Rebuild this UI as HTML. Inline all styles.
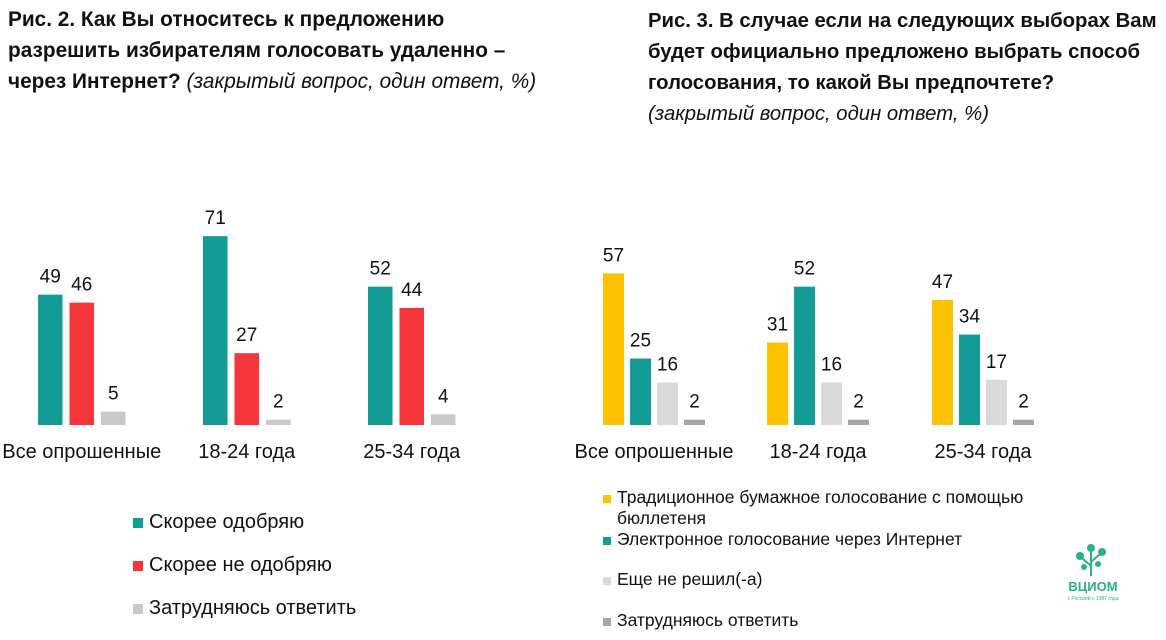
<!DOCTYPE html>
<html><head><meta charset="utf-8">
<style>
body{margin:0;width:1166px;height:640px;background:#fff;font-family:"Liberation Sans","DejaVu Sans",sans-serif;overflow:hidden;position:relative}
.t{position:absolute;font-weight:bold;line-height:31px;color:#111;white-space:nowrap}
.t i{font-weight:normal}
svg{position:absolute;left:0;top:0}
</style></head><body>
<div class="t" style="left:8px;top:4px;font-size:20.8px">Рис. 2. Как Вы относитесь к предложению<br>разрешить избирателям голосовать удаленно –<br>через Интернет? <i>(закрытый вопрос, один ответ, %)</i></div>
<div class="t" style="left:648px;top:6px;font-size:20.3px">Рис. 3. В случае если на следующих выборах Вам<br>будет официально предложено выбрать способ<br>голосования, то какой Вы предпочтете?<br><i>(закрытый вопрос, один ответ, %)</i></div>
<svg id="c" width="1166" height="640"></svg>
<script>
const cats1=["Все опрошенные","18-24 года","25-34 года"];
const approve=[49,71,52];
const disapprove=[46,27,44];
const unsure1=[5,2,4];
const cats2=["Все опрошенные","18-24 года","25-34 года"];
const paper=[57,31,47];
const online=[25,52,34];
const undecided=[16,16,17];
const unsure2=[2,2,2];
const NS="http://www.w3.org/2000/svg";
const svg=document.getElementById('c');
const base=425, k=2.66;
function y(v){return base-v*k;}
function mk(tag,attrs){const e=document.createElementNS(NS,tag);for(const a in attrs)e.setAttribute(a,attrs[a]);svg.appendChild(e);return e;}
function chart(prefix,cats,series,colors,groupX,bw,step){
  cats.forEach((c,i)=>{
    series.forEach((s,j)=>{
      const x=groupX[i]+j*step;
      const r=mk('rect',{x:x,y:y(s[i]),width:bw,height:s[i]*k,fill:colors[j]});
      
      
      const t=mk('text',{x:x+bw/2,y:y(s[i])-12,'text-anchor':'middle','font-size':'19',fill:'#111'});
      t.textContent=s[i];
      
      
    });
    const w=(series.length-1)*step+bw;
    const l=mk('text',{x:groupX[i]+w/2,y:458,'text-anchor':'middle','font-size':'20',fill:'#111'});
    l.textContent=c;
    
    
  });
}
chart('fig2',cats1,[approve,disapprove,unsure1],['#139b96','#f5363a','#c9c9c9'],[38,203,368],24.5,31.5);
chart('fig3',cats2,[paper,online,undecided,unsure2],['#fdc200','#139b96','#d9d9d9','#a6a6a6'],[603,767,932],21,27);
function leg(x,yy,col,txt,fs,sz){
  const r=mk('rect',{x:x,y:yy-sz,width:sz,height:sz,fill:col});
  
  
  const lines=txt.split('\n');
  lines.forEach((ln,i)=>{
    const t=mk('text',{x:x+sz+6,y:yy+i*21,'font-size':fs,fill:'#111'});
    t.textContent=ln;
    
    
  });
}
leg(133,528,'#139b96','Скорее одобряю',20,10);
leg(133,571,'#f5363a','Скорее не одобряю',20,10);
leg(133,614,'#c9c9c9','Затрудняюсь ответить',20,10);
leg(603,503,'#fdc200','Традиционное бумажное голосование с помощью\nбюллетеня',17.5,8);
leg(603,545,'#139b96','Электронное голосование через Интернет',17.5,8);
leg(603,585,'#d9d9d9','Еще не решил(-а)',17.5,8);
leg(603,626,'#a6a6a6','Затрудняюсь ответить',17.5,8);
</script>
<svg width="80" height="70" style="left:1058px;top:540px">
<g stroke="#2bb18a" stroke-width="2" fill="none"><line x1="33" y1="36" x2="33" y2="10"/><line x1="33" y1="26" x2="24" y2="18"/><line x1="33" y1="22" x2="42" y2="14"/></g>
<g fill="#2bb18a"><circle cx="33" cy="8" r="4"/><circle cx="22" cy="16" r="4"/><circle cx="44" cy="12" r="4"/><circle cx="26" cy="27" r="3"/><circle cx="40" cy="24" r="3"/></g>
<text x="35" y="51" text-anchor="middle" font-size="13" fill="#2bb18a" font-weight="bold">ВЦИОМ</text>
<text x="35" y="60" text-anchor="middle" font-size="5" fill="#2bb18a">с Россией с 1987 года</text>
</svg>
</body></html>
